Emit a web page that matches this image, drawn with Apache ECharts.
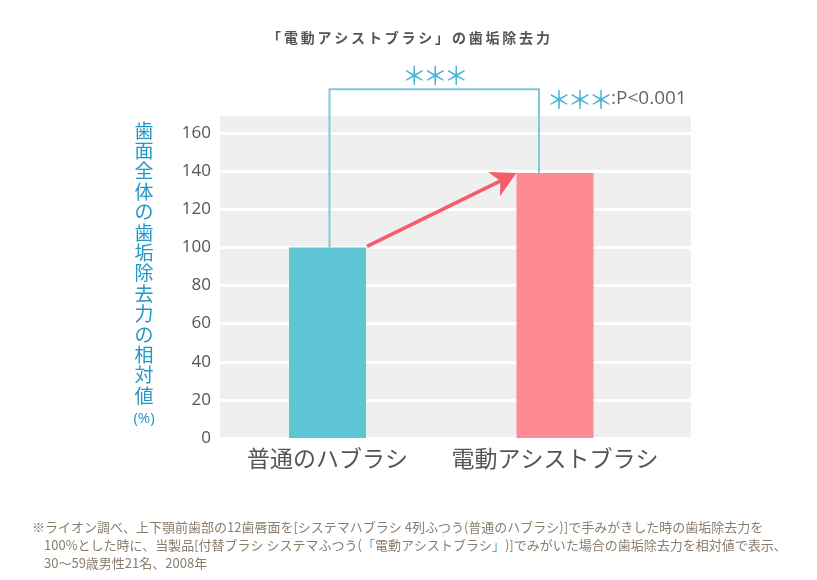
<!DOCTYPE html>
<html lang="ja">
<head>
<meta charset="utf-8">
<title>電動アシストブラシの歯垢除去力</title>
<script src="https://cdn.jsdelivr.net/npm/echarts@6/dist/echarts.min.js"></script>
<style>
html, body { margin: 0; padding: 0; background: #fff; }
#chart { width: 817px; height: 580px; }
</style>
</head>
<body>
<div id="chart"></div>
<script>
const categories = ['普通のハブラシ', '電動アシストブラシ']
const removalValues = [100, 139]
const barColors = ['#5dc5d3', '#fe8a93']
const yTicks = [0, 20, 40, 60, 80, 100, 120, 140, 160]
const bracketTop = 183
const sigStars = ['＊', '＊', '＊']
const sigNote = ':P<0.001'
const titleText = '「電動アシストブラシ」の歯垢除去力'
const yName = '歯面全体の歯垢除去力の相対値'
const yUnit = '(%)'
const footnotes = [
  '※ライオン調べ、上下顎前歯部の12歯唇面を[システマハブラシ 4列ふつう(普通のハブラシ)]で手みがきした時の歯垢除去力を',
  '100%とした時に、当製品[付替ブラシ システマふつう({b|「}電動アシストブラシ{b|」})]でみがいた場合の歯垢除去力を相対値で表示、',
  '30〜59歳男性21名、2008年'
]

const JP = '"Noto Sans CJK JP", sans-serif'
const NUM = '"Open Sans", "Noto Sans CJK JP", sans-serif'
const STAR_BLUE = '#4fb3d2'
const barWidth = 77
const starGap = 21

// 星印は1つずつ並べる（全角の字幅だと間が空きすぎるため）
const starText = (cx, cy) => sigStars.map((s, i) => ({
  type: 'text',
  x: cx + (i - 1) * starGap,
  y: cy,
  style: { text: s, fill: STAR_BLUE, fontSize: 25, fontFamily: JP, align: 'center', verticalAlign: 'middle' }
}))

const chart = echarts.init(document.getElementById('chart'))

chart.setOption({
  animation: false,
  title: {
    text: titleText.split('').join('\u2009'),
    left: 'center',
    top: 26,
    textStyle: { color: '#555', fontSize: 14, fontWeight: 'bold', fontFamily: JP }
  },
  grid: [
    // 背景（灰色の領域と白い目盛線）
    { left: 220, right: 126, top: 114, bottom: 142, show: true, backgroundColor: '#efefef', borderWidth: 0 },
    // 棒グラフ用
    { left: 213.75, right: 148.25, top: 114, bottom: 142 }
  ],
  xAxis: [
    { gridIndex: 0, type: 'value', show: false, min: 0, max: 1 },
    {
      gridIndex: 1,
      type: 'category',
      data: categories,
      axisLine: { show: false },
      axisTick: { show: false },
      axisLabel: { color: '#555', fontSize: 23, fontFamily: JP, margin: 9, interval: 0 }
    }
  ],
  yAxis: [
    {
      gridIndex: 0,
      type: 'value',
      min: 0,
      max: 170,
      interval: 20,
      axisLine: { show: false },
      axisTick: { show: false },
      axisLabel: {
        color: '#555',
        fontSize: 17,
        fontFamily: NUM,
        margin: 9,
        formatter: (v) => (yTicks.includes(v) ? String(v) : '')
      },
      splitLine: { lineStyle: { color: '#fff', width: 3 } }
    },
    { gridIndex: 1, type: 'value', min: 0, max: 170, show: false }
  ],
  series: [
    {
      type: 'bar',
      xAxisIndex: 1,
      yAxisIndex: 1,
      barWidth: barWidth,
      data: removalValues.map((v, i) => ({ value: v, itemStyle: { color: barColors[i] } }))
    },
    {
      // 有意差ブラケットと矢印
      type: 'custom',
      xAxisIndex: 1,
      yAxisIndex: 1,
      silent: true,
      z: 5,
      data: [0],
      renderItem(params, api) {
        const p0 = api.coord([0, removalValues[0]])
        const p1 = api.coord([1, removalValues[1]])
        const top = api.coord([0, bracketTop])[1]
        const half = barWidth / 2
        const lx = p0[0] + 2
        const rx = p1[0] - 16
        const a0 = [p0[0] + half + 1, p0[1] - 1]
        const a1 = [p1[0] - half, p1[1]]
        const dx = a1[0] - a0[0]
        const dy = a1[1] - a0[1]
        const len = Math.hypot(dx, dy)
        const ux = dx / len
        const uy = dy / len
        const back = (d, s) => [a1[0] - ux * d - uy * s, a1[1] - uy * d + ux * s]
        return {
          type: 'group',
          children: [
            {
              type: 'polyline',
              shape: { points: [[lx, p0[1]], [lx, top], [rx, top], [rx, p1[1]]] },
              style: { stroke: '#86c6da', lineWidth: 2, fill: null }
            },
            {
              type: 'line',
              shape: { x1: a0[0], y1: a0[1], x2: back(16, 0)[0], y2: back(16, 0)[1] },
              style: { stroke: '#f65c6b', lineWidth: 3.5 }
            },
            {
              type: 'polygon',
              shape: { points: [a1, back(25, 13.5), back(18, 0), back(25, -13.5)] },
              style: { fill: '#f65c6b' }
            },
            ...starText((lx + rx) / 2 + 1, top - 14)
          ]
        }
      }
    }
  ],
  graphic: [
    {
      type: 'text',
      x: 144,
      y: 276,
      style: {
        text: yName.split('').join('\n') + '\n{u|' + yUnit + '}',
        fill: '#2497c6',
        fontSize: 19,
        lineHeight: 20.4,
        fontFamily: JP,
        align: 'center',
        verticalAlign: 'middle',
        rich: { u: { fontSize: 15, lineHeight: 26, fill: '#2497c6', fontFamily: NUM } }
      }
    },
    ...starText(580, 99),
    {
      type: 'text',
      x: 611,
      y: 99,
      style: { text: sigNote, fill: '#666', fontSize: 19, fontFamily: NUM, verticalAlign: 'middle' }
    },
    ...footnotes.map((t, i) => ({
      type: 'text',
      x: i === 0 ? 32 : 44,
      y: 527 + i * 18,
      style: {
        text: t,
        fill: '#8a7d6e',
        fontSize: 13,
        fontFamily: JP,
        verticalAlign: 'middle',
        rich: { b: { fill: '#5aa9d6', fontSize: 13, fontFamily: JP } }
      }
    }))
  ]
})
</script>
</body>
</html>
